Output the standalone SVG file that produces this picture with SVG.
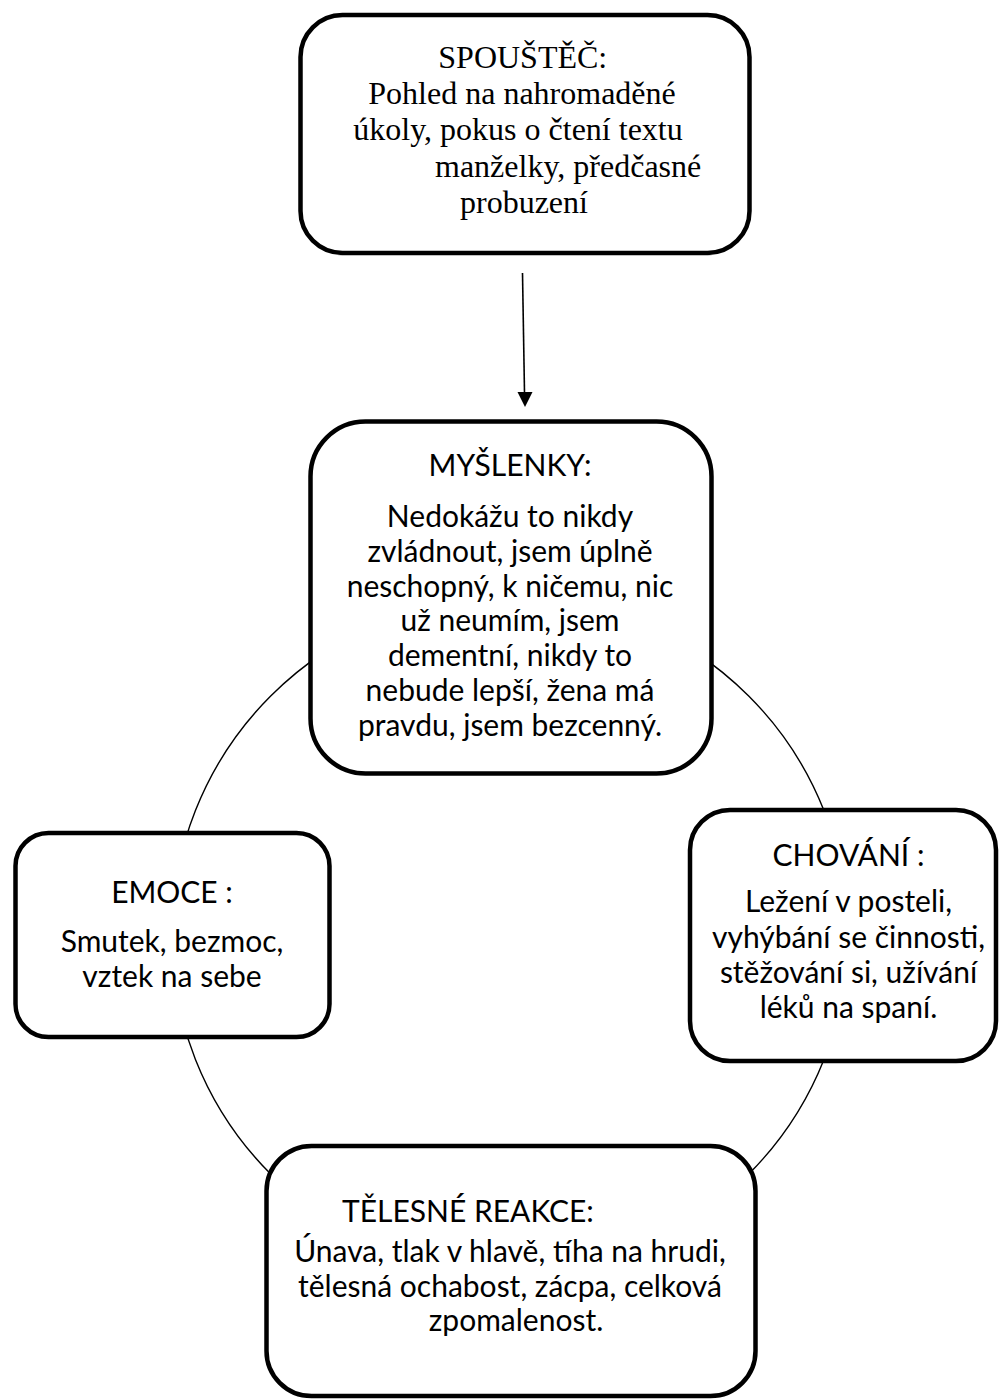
<svg xmlns="http://www.w3.org/2000/svg" width="999" height="1399" viewBox="0 0 999 1399">
<style>
.box{fill:#fff;stroke:#000;stroke-width:4.5}
.serif{font-family:"Liberation Serif","Times New Roman",serif;font-size:32px;fill:#000}
.sans{font-family:Lato,"Liberation Sans",sans-serif;font-size:30px;fill:#000;text-anchor:middle}
.conn{fill:none;stroke:#000;stroke-width:1.4}
</style>
<rect width="999" height="1399" fill="#fff"/>
<g id="connectors">
<circle class="conn" cx="509.7" cy="935" r="338"/>
<line x1="522.5" y1="273" x2="524.5" y2="393" stroke="#000" stroke-width="1.6"/>
<polygon points="517.5,392 532.5,392 525,407" fill="#000"/>
</g>
<g id="spoustec">
<rect class="box" x="300.5" y="15" width="449" height="238" rx="42"/>
<text class="serif" x="438.3" y="68">SPOUŠTĚČ:</text>
<text class="serif" x="368.3" y="103.5">Pohled na nahromaděné</text>
<text class="serif" x="353.3" y="139.5">úkoly, pokus o čtení textu</text>
<text class="serif" x="435" y="176.5">manželky, předčasné</text>
<text class="serif" x="460" y="213">probuzení</text>
</g>
<g id="myslenky">
<rect class="box" x="310.5" y="421.5" width="401" height="352" rx="55"/>
<text class="sans" x="510" y="476">MYŠLENKY:</text>
<text class="sans" x="510" y="526.5">Nedokážu to nikdy</text>
<text class="sans" x="510" y="561.5">zvládnout, jsem úplně</text>
<text class="sans" x="510" y="596.5">neschopný, k ničemu, nic</text>
<text class="sans" x="510" y="631">už neumím, jsem</text>
<text class="sans" x="510" y="666">dementní, nikdy to</text>
<text class="sans" x="510" y="701">nebude lepší, žena má</text>
<text class="sans" x="510" y="736">pravdu, jsem bezcenný.</text>
</g>
<g id="emoce">
<rect class="box" x="15.5" y="833" width="314" height="204" rx="33"/>
<text class="sans" x="172" y="903">EMOCE :</text>
<text class="sans" x="172" y="952">Smutek, bezmoc,</text>
<text class="sans" x="172" y="987">vztek na sebe</text>
</g>
<g id="chovani">
<rect class="box" x="690" y="810" width="306" height="251" rx="40"/>
<text class="sans" x="848.5" y="866">CHOVÁNÍ :</text>
<text class="sans" x="848.5" y="911.5">Ležení v posteli,</text>
<text class="sans" x="848.5" y="947.5">vyhýbání se činnosti,</text>
<text class="sans" x="848.5" y="982.5">stěžování si, užívání</text>
<text class="sans" x="848.5" y="1018">léků na spaní.</text>
</g>
<g id="telesne">
<rect class="box" x="266.5" y="1146" width="489" height="250" rx="45"/>
<text class="sans" x="342" y="1222" style="text-anchor:start">TĚLESNÉ REAKCE:</text>
<text class="sans" x="510" y="1261.5">Únava, tlak v hlavě, tíha na hrudi,</text>
<text class="sans" x="510" y="1296.5">tělesná ochabost, zácpa, celková</text>
<text class="sans" x="516" y="1331">zpomalenost.</text>
</g>
</svg>
